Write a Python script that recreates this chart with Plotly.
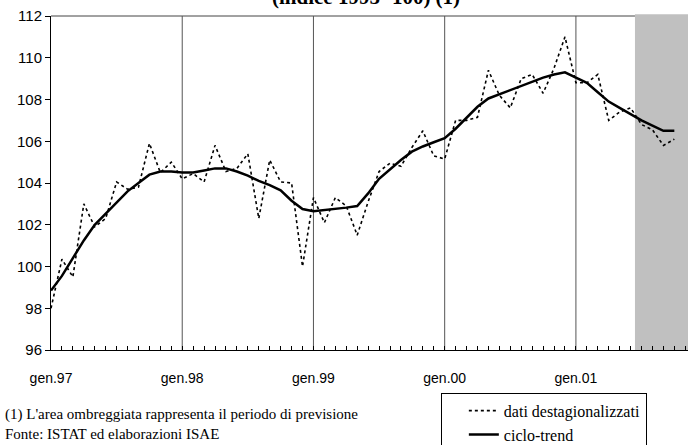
import plotly.graph_objects as go

# Monthly categories, gen.97 .. ott.01
mesi_abbr = ["gen", "feb", "mar", "apr", "mag", "giu", "lug", "ago", "set", "ott", "nov", "dic"]
anni = ["97", "98", "99", "00", "01"]
months = [f"{m}.{a}" for a in anni for m in mesi_abbr][:58]

dati_destagionalizzati = [
    98.0, 100.35, 99.5, 103.0, 101.9, 102.3, 104.05, 103.7, 103.8, 105.9, 104.5, 105.0,
    104.2, 104.45, 104.05, 105.8, 104.55, 104.7, 105.4, 102.3, 105.1, 104.05, 104.0, 100.0,
    103.3, 102.1, 103.3, 102.9, 101.5, 103.1, 104.55, 104.95, 104.8, 105.7, 106.5, 105.3,
    105.15, 107.0, 107.0, 107.15, 109.4, 108.2, 107.6, 109.0, 109.2, 108.3, 109.5, 111.0,
    108.8, 108.8, 109.2, 107.0, 107.4, 107.6, 106.8, 106.55, 105.8, 106.1,
]
ciclo_trend = [
    98.85, 99.55, 100.4, 101.25, 102.0, 102.55, 103.1, 103.6, 104.0, 104.4, 104.55, 104.55,
    104.5, 104.5, 104.6, 104.7, 104.7, 104.55, 104.35, 104.1, 103.9, 103.65, 103.15, 102.75,
    102.65, 102.7, 102.75, 102.82, 102.9, 103.5, 104.2, 104.65, 105.1, 105.5, 105.75, 105.95,
    106.15, 106.6, 107.15, 107.65, 108.05, 108.25, 108.45, 108.65, 108.85, 109.05, 109.2, 109.3,
    109.05, 108.8, 108.35, 107.9, 107.6, 107.3, 107.0, 106.75, 106.5, 106.5,
]
year_labels = ["gen.97", "gen.98", "gen.99", "gen.00", "gen.01"]
y_ticks = [96, 98, 100, 102, 104, 106, 108, 110, 112]
forecast_start = 53.4  # shaded forecast period begins between giu.01 and lug.01
x_max = 58.25

x = list(range(len(months)))
tickvals = [months.index(lbl) for lbl in year_labels]

fig = go.Figure()
fig.add_trace(go.Scatter(
    x=x, y=dati_destagionalizzati, mode="lines", name="dati destagionalizzati",
    line=dict(color="black", width=1.6, dash="3px,3px"),
))
fig.add_trace(go.Scatter(
    x=x, y=ciclo_trend, mode="lines", name="ciclo-trend",
    line=dict(color="black", width=2.5),
))

shapes = []
shapes.append(dict(type="line", xref="x", yref="paper", x0=0, x1=x_max, y0=1, y1=1,
                   line=dict(color="#444444", width=1), layer="below"))
for tv in tickvals[1:]:
    shapes.append(dict(type="line", xref="x", yref="paper", x0=tv, x1=tv, y0=0, y1=1,
                       line=dict(color="#555555", width=1), layer="below"))
shapes.append(dict(type="rect", xref="x", yref="paper", x0=forecast_start, x1=x_max,
                   y0=0, y1=1.005, fillcolor="#C0C0C0", line=dict(width=0), layer="below"))

fig.update_layout(
    width=688, height=445,
    margin=dict(l=51, r=0, t=16, b=95, autoexpand=False),
    paper_bgcolor="white", plot_bgcolor="white",
    showlegend=True,
    legend=dict(
        x=0.612, y=-0.128, xanchor="left", yanchor="top",
        bordercolor="black", borderwidth=1, bgcolor="white",
        font=dict(family="Liberation Serif", size=16, color="black"),
        tracegroupgap=0, itemwidth=30, indentation=22,
    ),
    shapes=shapes,
    annotations=[
        dict(text="<b>(indice 1995=100) (1)</b>", xref="paper", yref="paper", x=0.5, y=1,
             xanchor="center", yanchor="bottom", yshift=5, xshift=-4, showarrow=False,
             font=dict(family="Liberation Serif", size=21, color="black")),
        dict(text="(1) L'area ombreggiata rappresenta il periodo di previsione",
             xref="paper", yref="paper", x=0, y=0, xanchor="left", yanchor="middle",
             xshift=-48, yshift=-64, showarrow=False,
             font=dict(family="Liberation Serif", size=15, color="black")),
        dict(text="Fonte: ISTAT ed elaborazioni ISAE",
             xref="paper", yref="paper", x=0, y=0, xanchor="left", yanchor="middle",
             xshift=-48, yshift=-84, showarrow=False,
             font=dict(family="Liberation Serif", size=15, color="black")),
    ],
)

fig.update_xaxes(
    range=[0, x_max], tickmode="array", tickvals=tickvals, ticktext=year_labels,
    showgrid=False, zeroline=False, showline=True, linecolor="black", linewidth=1,
    ticks="inside", ticklen=4, tickcolor="black", ticklabelstandoff=15, automargin=False,
    tickfont=dict(family="Liberation Sans", size=14, color="black"),
    minor=dict(dtick=1, tick0=0, ticks="inside", ticklen=4, tickcolor="black", showgrid=False),
)
fig.update_yaxes(
    range=[96, 112], tickmode="array", tickvals=y_ticks, automargin=False,
    showgrid=False, zeroline=False, showline=True, linecolor="black", linewidth=1,
    ticks="outside", ticklen=5, tickcolor="black",
    tickfont=dict(family="Liberation Sans", size=15, color="black"),
)

fig.write_html("out.html", config={"displayModeBar": False},
               post_script="document.body.style.margin='0';document.body.style.overflow='hidden';")
